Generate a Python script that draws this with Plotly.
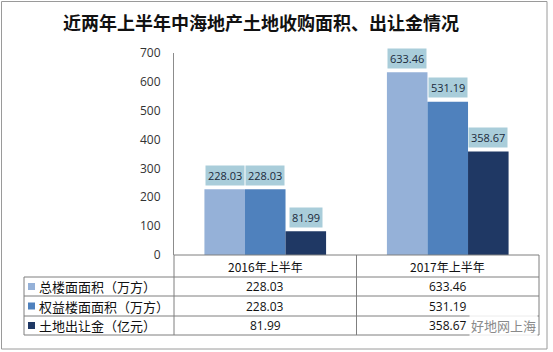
import plotly.graph_objects as go

categories = ["2016年上半年", "2017年上半年"]
series_names = ["总楼面面积（万方）", "权益楼面面积（万方）", "土地出让金（亿元）"]
total_area = [228.03, 633.46]
equity_area = [228.03, 531.19]
land_fee = [81.99, 358.67]
series_values = [total_area, equity_area, land_fee]
colors = ["#95B1D8", "#4F81BD", "#1F3864"]
y_ticks = [0, 100, 200, 300, 400, 500, 600, 700]

W, H = 553, 352
def px(x): return x / W
def py(y): return 1 - y / H

X0, X1 = 174, 539
Y_TOP, Y_ZERO = 53, 255

fig = go.Figure()
for name, vals, c in zip(series_names, series_values, colors):
    fig.add_trace(go.Bar(x=categories, y=vals, name=name, marker=dict(color=c, line=dict(width=0)),
                         hoverinfo="skip"))

cat_w = (X1 - X0) / len(categories)
bar_w = cat_w / 4.5
annotations = []
# data labels
for i, vals in enumerate(series_values):
    for cat, v in zip(categories, vals):
        annotations.append(dict(x=cat, y=v, xref="x", yref="y", text=f"{v:.2f}",
                                showarrow=False, xshift=(i - 1) * bar_w, yshift=14,
                                xanchor="center", yanchor="middle",
                                bgcolor="#A9CDDA", borderpad=2,
                                font=dict(family="Open Sans", size=11, color="#1a2a3a")))
# table header
for cat in categories:
    annotations.append(dict(x=cat, y=py(266), xref="x", yref="paper", text=cat, showarrow=False,
                            xanchor="center", yanchor="middle",
                            font=dict(family="Noto Sans CJK SC", size=12, color="#111111")))
row_y = [286.5, 306, 325.5]
for r, (name, vals, c) in enumerate(zip(series_names, series_values, colors)):
    annotations.append(dict(x=px(37), y=py(row_y[r]), xref="paper", yref="paper", text=name,
                            xanchor="left", yanchor="middle", showarrow=False,
                            font=dict(family="Noto Sans CJK SC", size=13, color="#111111")))
    for cat, v in zip(categories, vals):
        annotations.append(dict(x=cat, y=py(row_y[r]), xref="x", yref="paper", text=f"{v:.2f}",
                                showarrow=False, xanchor="center", yanchor="middle",
                                font=dict(family="Open Sans", size=12, color="#111111")))
# title
annotations.append(dict(x=px(261), y=py(22), xref="paper", yref="paper",
                        xanchor="center", yanchor="middle",
                        text="<b>近两年上半年中海地产土地收购面积、出让金情况</b>", showarrow=False,
                        font=dict(family="Noto Sans CJK SC", size=18, color="#111111")))
# watermark
annotations.append(dict(x=px(538), y=py(325.5), xref="paper", yref="paper", xanchor="right",
                        yanchor="middle",
                        text="好地网上海", showarrow=False, bgcolor="rgba(255,255,255,0.85)",
                        font=dict(family="Noto Sans CJK SC", size=13, color="#8a8a8a")))

shapes = []
line_c = "#7f7f7f"
def hline(y, xa, xb):
    shapes.append(dict(type="line", xref="paper", yref="paper", x0=px(xa), x1=px(xb), y0=py(y), y1=py(y),
                       line=dict(color=line_c, width=1)))
def vline(x, ya, yb):
    shapes.append(dict(type="line", xref="paper", yref="paper", x0=px(x), x1=px(x), y0=py(ya), y1=py(yb),
                       line=dict(color=line_c, width=1)))
hline(255, X0, X1)
for y in [277, 296, 316, 335]:
    hline(y, 24, X1)
vline(24, 277, 335)
vline(X0, 255, 335)
vline((X0 + X1) / 2, 255, 335)
vline(X1, 255, 335)
# legend keys
for r, c in enumerate(colors):
    shapes.append(dict(type="rect", xref="paper", yref="paper", x0=px(28), x1=px(35),
                       y0=py(row_y[r] + 3.5), y1=py(row_y[r] - 3.5), fillcolor=c, line=dict(width=0)))
# outer border
shapes.append(dict(type="rect", xref="paper", yref="paper", x0=px(1.5), x1=px(547), y0=py(349), y1=py(1.5),
                   line=dict(color="#9a9a9a", width=1)))

fig.update_layout(
    width=W, height=H, margin=dict(l=0, r=0, t=0, b=0),
    paper_bgcolor="white", plot_bgcolor="white", showlegend=False,
    barmode="group", bargap=1.5 / 4.5, bargroupgap=0,
    xaxis=dict(domain=[px(X0), px(X1)], showticklabels=False, showline=False, showgrid=False,
               zeroline=False, ticks="", fixedrange=True),
    yaxis=dict(domain=[py(Y_ZERO), py(Y_TOP)], range=[0, 700], tickvals=y_ticks, showgrid=False,
               zeroline=False, showline=True, linecolor="#8c8c8c", linewidth=1, ticks="",
               ticklabelstandoff=10, automargin=False,
               tickfont=dict(family="Open Sans", size=12, color="#333333")),
    annotations=annotations, shapes=shapes,
)
fig.write_html("out.html")
